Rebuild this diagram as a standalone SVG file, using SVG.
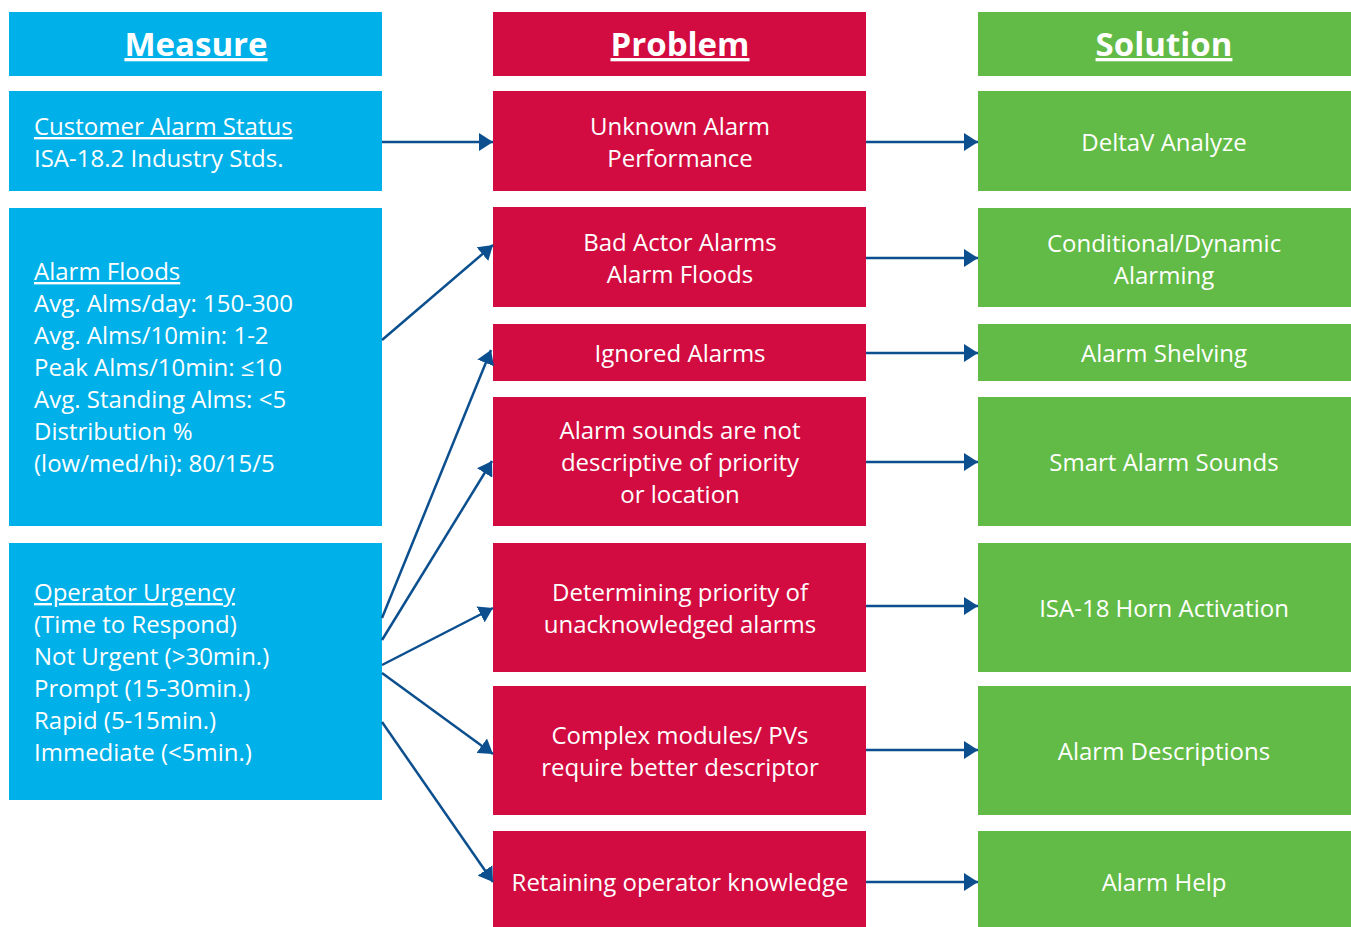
<svg xmlns="http://www.w3.org/2000/svg" width="1351" height="927" viewBox="0 0 1351 927">
<defs>
<marker id="ah" markerUnits="userSpaceOnUse" markerWidth="15" markerHeight="18" refX="14" refY="9" orient="auto">
<path d="M0,0 L14,9 L0,18 Z" fill="#0B4F8F"/>
</marker>
<style>
.m{fill:#00B0E8}.p{fill:#D20C40}.s{fill:#62BB46}
text{font-family:"Open Sans","Noto Sans","Liberation Sans",sans-serif;fill:#fff;font-size:24px}
.h{font-size:33px;font-weight:bold;text-decoration:underline;text-anchor:middle}
.c{text-anchor:middle}
.u{text-decoration:underline}
.con line{stroke:#0B4F8F;stroke-width:2.5;marker-end:url(#ah)}
</style>
</defs>
<rect width="1351" height="927" fill="#fff"/>
<g id="hdr-measure"><rect class="m" x="9" y="12" width="373" height="64"/><text class="h" x="196" y="56">Measure</text></g>
<g id="hdr-problem"><rect class="p" x="493" y="12" width="373" height="64"/><text class="h" x="680" y="56">Problem</text></g>
<g id="hdr-solution"><rect class="s" x="978" y="12" width="373" height="64"/><text class="h" x="1164" y="56">Solution</text></g>

<g id="m1"><rect class="m" x="9" y="91" width="373" height="100"/>
<text x="34" y="135"><tspan class="u">Customer Alarm Status</tspan><tspan x="34" dy="32">ISA-18.2 Industry Stds.</tspan></text></g>
<g id="m2"><rect class="m" x="9" y="208" width="373" height="318"/>
<text x="34" y="280"><tspan class="u">Alarm Floods</tspan><tspan x="34" dy="32">Avg. Alms/day: 150-300</tspan><tspan x="34" dy="32">Avg. Alms/10min: 1-2</tspan><tspan x="34" dy="32">Peak Alms/10min: ≤10</tspan><tspan x="34" dy="32">Avg. Standing Alms: &lt;5</tspan><tspan x="34" dy="32">Distribution %</tspan><tspan x="34" dy="32">(low/med/hi): 80/15/5</tspan></text></g>
<g id="m3"><rect class="m" x="9" y="543" width="373" height="257"/>
<text x="34" y="601"><tspan class="u">Operator Urgency</tspan><tspan x="34" dy="32">(Time to Respond)</tspan><tspan x="34" dy="32">Not Urgent (&gt;30min.)</tspan><tspan x="34" dy="32">Prompt (15-30min.)</tspan><tspan x="34" dy="32">Rapid (5-15min.)</tspan><tspan x="34" dy="32">Immediate (&lt;5min.)</tspan></text></g>

<g id="p1"><rect class="p" x="493" y="91" width="373" height="100"/><text class="c" x="680" y="135">Unknown Alarm<tspan x="680" dy="32">Performance</tspan></text></g>
<g id="p2"><rect class="p" x="493" y="207" width="373" height="100"/><text class="c" x="680" y="251">Bad Actor Alarms<tspan x="680" dy="32">Alarm Floods</tspan></text></g>
<g id="p3"><rect class="p" x="493" y="324" width="373" height="57"/><text class="c" x="680" y="362">Ignored Alarms</text></g>
<g id="p4"><rect class="p" x="493" y="397" width="373" height="129"/><text class="c" x="680" y="439">Alarm sounds are not<tspan x="680" dy="32">descriptive of priority</tspan><tspan x="680" dy="32">or location</tspan></text></g>
<g id="p5"><rect class="p" x="493" y="543" width="373" height="129"/><text class="c" x="680" y="601">Determining priority of<tspan x="680" dy="32">unacknowledged alarms</tspan></text></g>
<g id="p6"><rect class="p" x="493" y="686" width="373" height="129"/><text class="c" x="680" y="744">Complex modules/ PVs<tspan x="680" dy="32">require better descriptor</tspan></text></g>
<g id="p7"><rect class="p" x="493" y="831" width="373" height="96"/><text class="c" x="680" y="891">Retaining operator knowledge</text></g>

<g id="s1"><rect class="s" x="978" y="91" width="373" height="100"/><text class="c" x="1164" y="151">DeltaV Analyze</text></g>
<g id="s2"><rect class="s" x="978" y="208" width="373" height="99"/><text class="c" x="1164" y="252">Conditional/Dynamic<tspan x="1164" dy="32">Alarming</tspan></text></g>
<g id="s3"><rect class="s" x="978" y="324" width="373" height="57"/><text class="c" x="1164" y="362">Alarm Shelving</text></g>
<g id="s4"><rect class="s" x="978" y="397" width="373" height="129"/><text class="c" x="1164" y="471">Smart Alarm Sounds</text></g>
<g id="s5"><rect class="s" x="978" y="543" width="373" height="129"/><text class="c" x="1164" y="617">ISA-18 Horn Activation</text></g>
<g id="s6"><rect class="s" x="978" y="686" width="373" height="129"/><text class="c" x="1164" y="760">Alarm Descriptions</text></g>
<g id="s7"><rect class="s" x="978" y="831" width="373" height="96"/><text class="c" x="1164" y="891">Alarm Help</text></g>

<g id="connectors" class="con">
<line x1="382" y1="142" x2="493" y2="142"/>
<line x1="382" y1="340" x2="493" y2="245"/>
<line x1="382" y1="618" x2="491" y2="350"/>
<line x1="382" y1="640" x2="492" y2="461"/>
<line x1="382" y1="665" x2="493" y2="608"/>
<line x1="382" y1="673" x2="493" y2="754"/>
<line x1="382" y1="722" x2="493" y2="882"/>
<line x1="866" y1="142" x2="978" y2="142"/>
<line x1="866" y1="258" x2="978" y2="258"/>
<line x1="866" y1="353" x2="978" y2="353"/>
<line x1="866" y1="462" x2="978" y2="462"/>
<line x1="866" y1="606" x2="978" y2="606"/>
<line x1="866" y1="750" x2="978" y2="750"/>
<line x1="866" y1="882" x2="978" y2="882"/>
</g>
</svg>
